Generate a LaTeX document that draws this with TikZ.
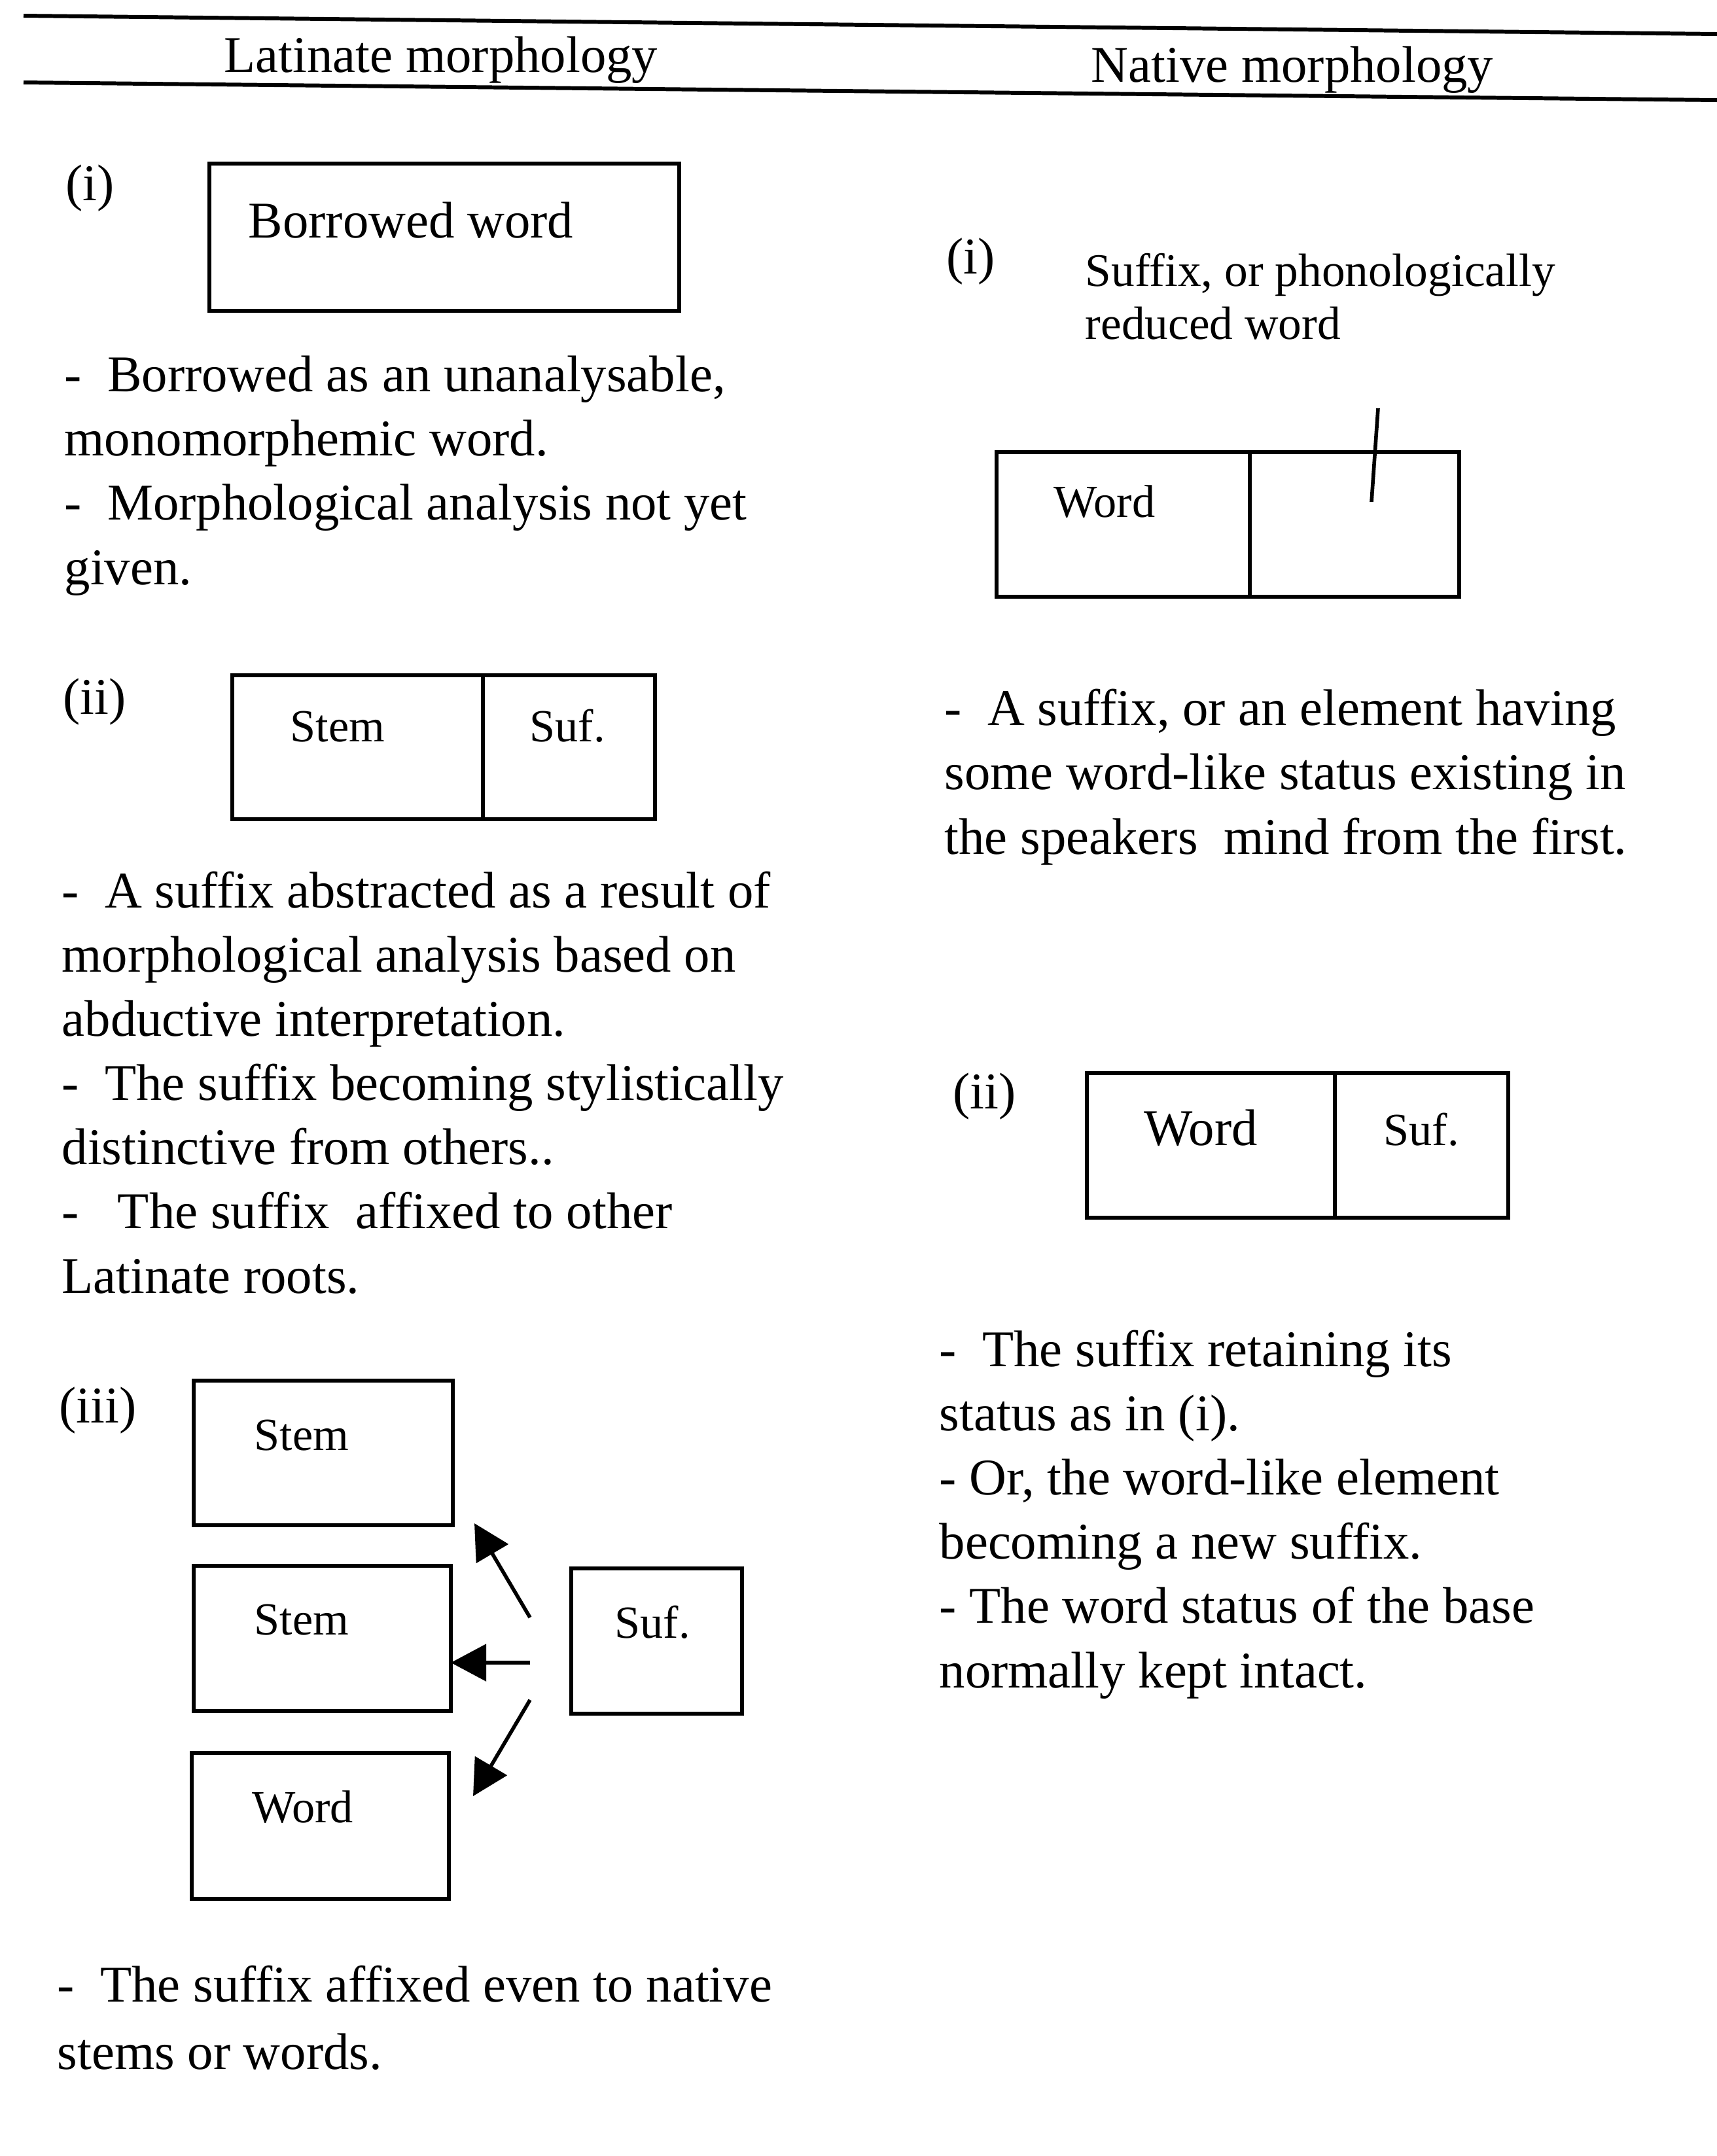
\documentclass[tikz,border=0pt]{standalone}
\usepackage{fontspec}
\setmainfont{Liberation Serif}
\usetikzlibrary{arrows.meta}

\begin{document}
\begin{tikzpicture}[
    body text/.style={
        font=\fontsize{22.4pt}{27.9pt}\selectfont,
        align=left,
        inner sep=0pt,
        anchor=base west
    },
    small text/.style={
        font=\fontsize{20.3pt}{22.8pt}\selectfont,
        align=left,
        inner sep=0pt,
        anchor=base west
    },
    box label/.style={
        font=\fontsize{20pt}{24pt}\selectfont,
        inner sep=0pt,
        anchor=base west
    },
    cell/.style={
        draw,
        line width=1.6pt,
        inner sep=0pt,
        outer sep=0pt,
        anchor=north west
    },
    rule/.style={
        line width=1.7pt
    },
    push/.style={
        -{Triangle[length=5.4mm,width=5.6mm]},
        line width=1.6pt
    }
]

\useasboundingbox (0,0) rectangle (26.24,-32.95);

%% --- En-tete ---
\draw[rule] (0.36,-0.24) -- (26.24,-0.52);
\draw[rule] (0.36,-1.26) -- (26.24,-1.53);
\node[body text] (latHead) at (3.42,-1.10) {Latinate morphology};
\node[body text] (natHead) at (16.67,-1.25) {Native morphology};

%% --- Latinate (i) ---
%% (multi-line texts: placed at the baseline of their last line)
\node[body text] (latI) at (1.00,-3.06) {(i)};
\node[cell, minimum width=7.18cm, minimum height=2.25cm] (borrow) at (3.20,-2.50) {};
\node[body text] (borrowTxt) at (3.79,-3.63) {Borrowed word};
\node[body text] (latItext) at (0.98,-8.93) {-\ \ Borrowed as an unanalysable,\\
monomorphemic word.\\
-\ \ Morphological analysis not yet\\
given.};

%% --- Latinate (ii) ---
\node[body text] (latII) at (0.96,-10.91) {(ii)};
\node[cell, minimum width=3.83cm, minimum height=2.20cm] (stem) at (3.55,-10.32) {};
\node[cell, minimum width=2.63cm, minimum height=2.20cm] (suf) at (stem.north east) {};
\node[box label] (stemTxt) at (4.43,-11.33) {Stem};
\node[box label] (sufTxt) at (8.09,-11.33) {Suf.};
\node[body text] (latIItext) at (0.94,-19.76) {-\ \ A suffix abstracted as a result of\\
morphological analysis based on\\
abductive interpretation.\\
-\ \ The suffix becoming stylistically\\
distinctive from others..\\
-\ \ \ The suffix\ \ affixed to other\\
Latinate roots.};

%% --- Latinate (iii) ---
\node[body text] (latIII) at (0.90,-21.74) {(iii)};
\node[cell, minimum width=3.96cm, minimum height=2.21cm] (stemA) at (2.96,-21.10) {};
\node[cell, minimum width=3.93cm, minimum height=2.22cm] (stemB) at (2.96,-23.93) {};
\node[cell, minimum width=3.93cm, minimum height=2.23cm] (wordC) at (2.93,-26.79) {};
\node[cell, minimum width=2.61cm, minimum height=2.22cm] (sufC) at (8.73,-23.97) {};
\node[box label] (stemAtxt) at (3.88,-22.16) {Stem};
\node[box label] (stemBtxt) at (3.88,-24.98) {Stem};
\node[box label] (wordCtxt) at (3.85,-27.85) {Word};
\node[box label] (sufCtxt) at (9.39,-25.03) {Suf.};

\coordinate (fromA) at (8.10,-24.72);
\coordinate (toA)   at (7.25,-23.28);
\coordinate (fromB) at (8.10,-25.41);
\coordinate (fromC) at (8.10,-25.98);
\coordinate (toC)   at (7.23,-27.45);
\draw[push] (fromA) -- (toA);
\draw[push] (fromB) -- (stemB.east |- fromB);
\draw[push] (fromC) -- (toC);

\node[body text] (latIIItext) at (0.87,-31.62) {-\ \ The suffix affixed even to native\\[0.04cm]
stems or words.};

%% --- Native (i) ---
\node[body text] (natI) at (14.46,-4.18) {(i)};
\node[small text] (natItop) at (16.58,-5.18) {Suffix, or phonologically\\
reduced word};
\node[cell, minimum width=3.87cm, minimum height=2.21cm] (word) at (15.23,-6.91) {};
\node[cell, minimum width=3.20cm, minimum height=2.21cm] (blank) at (word.north east) {};
\node[box label] (wordTxt) at (16.10,-7.90) {Word};
\draw[line width=1.6pt] (21.06,-6.24) -- (20.96,-7.67);
\node[body text] (natItext) at (14.43,-13.05) {-\ \ A suffix, or an element having\\
some word-like status existing in\\
the speakers\ \ mind from the first.};

%% --- Native (ii) ---
\node[body text] (natII) at (14.56,-16.94) {(ii)};
\node[cell, minimum width=3.79cm, minimum height=2.21cm] (wordN) at (16.61,-16.40) {};
\node[cell, minimum width=2.65cm, minimum height=2.21cm] (sufN) at (wordN.north east) {};
\node[body text] (wordNtxt) at (17.48,-17.50) {Word};
\node[box label] (sufNtxt) at (21.14,-17.50) {Suf.};
\node[body text] (natIItext) at (14.35,-25.79) {-\ \ The suffix retaining its\\
status as in (i).\\
- Or, the word-like element\\
becoming a new suffix.\\
- The word status of the base\\
normally kept intact.};

\end{tikzpicture}
\end{document}
